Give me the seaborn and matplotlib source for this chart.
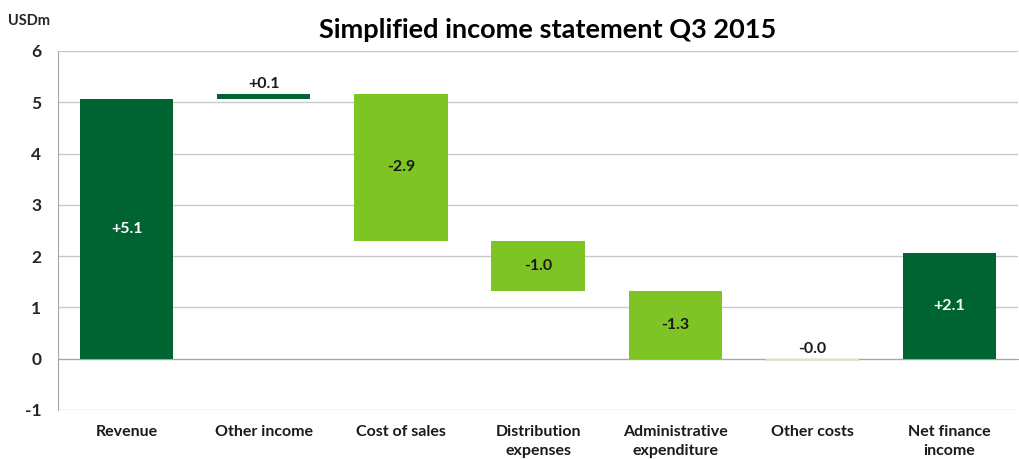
import numpy as np
import pandas as pd
import seaborn as sns
import matplotlib.pyplot as plt
import matplotlib.transforms as mtransforms

categories = ['Revenue', 'Other income', 'Cost of sales', 'Distribution\nexpenses',
              'Administrative\nexpenditure', 'Other costs', 'Net finance\nincome']
values = [5.06, 0.11, -2.88, -0.97, -1.32, -0.04, 2.06]
is_total = [False, False, False, False, False, False, True]

DARK = '#006432'
LIGHT = '#7ec424'
PALE = '#d4ebb5'

# waterfall bottoms
bottoms = []
running = 0.0
for v, tot in zip(values, is_total):
    if tot:
        bottoms.append(0.0)
    else:
        bottoms.append(running)
        running += v

df = pd.DataFrame({'cat': categories, 'value': values, 'bottom': bottoms})

sns.set_style('white')
plt.rcParams['font.family'] = ['Lato', 'DejaVu Sans']
plt.rcParams['font.weight'] = 'bold'

fig = plt.figure(figsize=(10.2, 4.59), dpi=100)
ax = fig.add_axes([0.057, 0.107, 0.941, 0.782])

sns.barplot(data=df, x='cat', y='value', bottom=df['bottom'].values, width=0.68,
            errorbar=None, ax=ax, zorder=3, linewidth=0, color=DARK, saturation=1)

for patch, v, tot in zip(ax.patches, values, is_total):
    if tot or v > 0:
        patch.set_facecolor(DARK)
    elif abs(v) < 0.05:
        patch.set_facecolor(PALE)
    else:
        patch.set_facecolor(LIGHT)

# value labels
for i, (v, b, tot) in enumerate(zip(values, bottoms, is_total)):
    lab = f'{v:+.1f}'
    top = max(b, b + v)
    if abs(v) < 0.5:
        ax.annotate(lab, (i, top), xytext=(0, 2), textcoords='offset points',
                    ha='center', va='bottom', fontsize=11.5, fontweight='bold', color='#1a1a1a')
    else:
        col = 'white' if (tot or v > 0) else '#1a1a1a'
        ax.text(i, b + v / 2, lab, ha='center', va='center', fontsize=11.5,
                fontweight='bold', color=col, zorder=4)

ax.set_xlim(-0.5, len(categories) - 0.5)
ax.set_ylim(-1, 6)
ax.set_yticks(range(-1, 7))
ax.set_yticklabels([str(t) for t in range(-1, 7)], fontsize=12.5, fontweight='bold')
ax.yaxis.grid(True, color='#c8c8c8', linewidth=1, zorder=0)
ax.set_axisbelow(True)

for s in ['top', 'right']:
    ax.spines[s].set_visible(False)
ax.spines['left'].set_color('#a6a6a6')
ax.spines['bottom'].set_position(('data', 0))
ax.spines['bottom'].set_color('#a6a6a6')
ax.spines['bottom'].set_zorder(2)

ax.set_xticks(np.arange(len(categories) + 1) - 0.5)
ax.set_xticklabels([])
ax.tick_params(axis='x', direction='out', length=5, color='#a6a6a6', width=1)
ax.tick_params(axis='y', direction='out', length=4, color='#a6a6a6', width=1, pad=8)
ax.set_xlabel('')
ax.set_ylabel('')

trans = mtransforms.blended_transform_factory(ax.transData, ax.transAxes)
for i, c in enumerate(categories):
    ax.annotate(c, (i, 0), xycoords=trans, xytext=(0, -11), textcoords='offset points',
                ha='center', va='top', fontsize=11.5, fontweight='bold',
                color='#1a1a1a', linespacing=1.45, annotation_clip=False)

fig.text(0.537, 0.935, 'Simplified income statement Q3 2015', ha='center', va='center',
         fontsize=19.5, fontweight='bold', color='black')
fig.text(0.008, 0.954, 'USDm', ha='left', va='center', fontsize=10.5, fontweight='bold')

fig.savefig('out.png', dpi=100)
